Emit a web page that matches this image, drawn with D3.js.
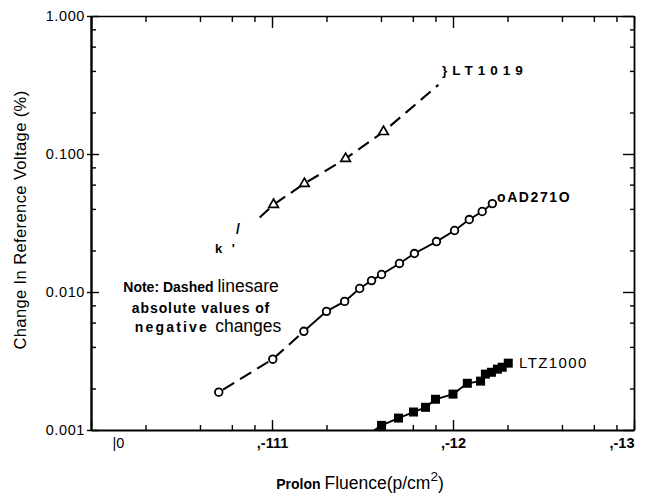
<!DOCTYPE html>
<html>
<head>
<meta charset="utf-8">
<script src="https://cdnjs.cloudflare.com/ajax/libs/d3/7.8.5/d3.min.js"></script>
<style>
    body { margin: 0; background: #fff; }
    svg { font-family: "Liberation Sans", Arial, Helvetica, sans-serif; }
</style>
</head>
<body>
<div id="chart"></div>
<script>
// tick values and labels (labels are kept as they appear on the scan)
var fluenceMajor = [1e10, 1e11, 1e12, 1e13];
var fluenceLabels = ["|0", ",-111", ",-12", ",-13"];
var fluenceMinor = [2e10, 4e10, 6e10, 8e10, 2e11, 4e11, 6e11, 8e11, 2e12, 4e12, 6e12, 8e12];
var changeMajor = [0.001, 0.01, 0.1, 1];
var changeLabels = ["0.001", "0.010", "0.100", "1.000"];
var changeMinor = [0.002, 0.004, 0.006, 0.008, 0.02, 0.04, 0.06, 0.08, 0.2, 0.4, 0.6, 0.8];

// LT1019 - triangles, all negative (dashed)
var lt1019Fluence = [1.02e11, 1.51e11, 2.55e11, 4.13e11];
var lt1019Change = [0.043, 0.061, 0.0925, 0.145];
// the dashed line runs a little past the markers on both ends
var lt1019LineFluence = [8.55e10, 1.02e11, 1.51e11, 2.55e11, 4.13e11, 8.3e11];
var lt1019LineChange = [0.0346, 0.043, 0.061, 0.0925, 0.145, 0.317];

// AD2710 - open circles, first three points negative (dashed)
var ad2710Fluence = [5.08e10, 1.01e11, 1.50e11, 2.0e11, 2.52e11, 3.05e11, 3.55e11, 4.03e11,
                     5.06e11, 6.12e11, 8.1e11, 1.02e12, 1.23e12, 1.45e12, 1.65e12];
var ad2710Change = [0.00188, 0.00326, 0.00519, 0.00724, 0.00855, 0.0106, 0.0121, 0.0134,
                    0.0161, 0.0190, 0.0232, 0.0279, 0.0335, 0.0383, 0.0437];
var ad2710Negative = 3;

// LTZ1000 - filled squares, line comes in from below the axis
var ltz1000Fluence = [4.03e11, 5.0e11, 6.05e11, 7.05e11, 8.0e11, 1.0e12, 1.20e12, 1.42e12,
                      1.51e12, 1.63e12, 1.76e12, 1.87e12, 2.02e12];
var ltz1000Change = [0.00108, 0.00122, 0.00135, 0.00146, 0.00167, 0.00182, 0.00218, 0.00226,
                     0.00254, 0.00262, 0.00276, 0.00285, 0.00305];
var ltz1000LineStart = [3.4e11, 0.00093];

var W = 645, H = 495;
// plot box (note: "top" is a reserved window property, so prefix everything)
var pLeft = 91, pRight = 634, pTop = 16, pBottom = 430;

var svg = d3.select("#chart").append("svg")
    .attr("width", W)
    .attr("height", H);

svg.append("rect").attr("width", W).attr("height", H).attr("fill", "#fff");

var x = d3.scaleLog().domain([1e10, 1e13]).range([pLeft, pRight]);
var y = d3.scaleLog().domain([0.001, 1]).range([pBottom, pTop]);

function zip(a, b) { return a.map(function(d, i) { return [d, b[i]]; }); }

// ---------- axes ----------
function styleAxis(g, w) {
    g.selectAll("line").attr("stroke", "#000").attr("stroke-width", 1.4);
    g.select(".domain").attr("stroke", "#000").attr("stroke-width", w);
}

// bottom
var xb = svg.append("g")
    .attr("transform", "translate(0," + pBottom + ")")
    .call(d3.axisBottom(x).tickValues(fluenceMajor).tickSizeInner(-10).tickSizeOuter(0)
        .tickPadding(8).tickFormat(function(d, i) { return fluenceLabels[i]; }));
styleAxis(xb, 1.8);
xb.selectAll("text").attr("font-size", 14.5).attr("fill", "#000").attr("font-weight", "bold");
xb.selectAll("text").filter(function(d, i) { return i == 0; })
    .attr("text-anchor", "start").attr("x", 21).attr("font-weight", "normal");
xb.selectAll("text").filter(function(d, i) { return i == 3; })
    .attr("text-anchor", "end").attr("x", 0);
svg.append("g")
    .attr("transform", "translate(0," + pBottom + ")")
    .call(d3.axisBottom(x).tickValues(fluenceMinor).tickSizeInner(-5).tickSizeOuter(0).tickFormat(""))
    .call(styleAxis, 0);

// top
svg.append("g")
    .attr("transform", "translate(0," + pTop + ")")
    .call(d3.axisTop(x).tickValues(fluenceMajor).tickSizeInner(-12).tickSizeOuter(0).tickFormat(""))
    .call(styleAxis, 1.6);
svg.append("g")
    .attr("transform", "translate(0," + pTop + ")")
    .call(d3.axisTop(x).tickValues(fluenceMinor).tickSizeInner(-6).tickSizeOuter(0).tickFormat(""))
    .call(styleAxis, 0);

// left: major ticks cross the axis
var yl = svg.append("g")
    .attr("transform", "translate(" + pLeft + ",0)")
    .call(d3.axisLeft(y).tickValues(changeMajor).tickSizeInner(4).tickSizeOuter(0)
        .tickPadding(2).tickFormat(function(d, i) { return changeLabels[i]; }));
styleAxis(yl, 2.4);
yl.selectAll("text").attr("font-size", 14.5).attr("fill", "#000").attr("letter-spacing", 0.6);
svg.append("g")
    .attr("transform", "translate(" + pLeft + ",0)")
    .call(d3.axisLeft(y).tickValues(changeMajor).tickSizeInner(-8).tickSizeOuter(0).tickFormat(""))
    .call(styleAxis, 0);
svg.append("g")
    .attr("transform", "translate(" + pLeft + ",0)")
    .call(d3.axisLeft(y).tickValues(changeMinor).tickSizeInner(-5).tickSizeOuter(0).tickFormat(""))
    .call(styleAxis, 0);

// right
svg.append("g")
    .attr("transform", "translate(" + pRight + ",0)")
    .call(d3.axisRight(y).tickValues(changeMajor).tickSizeInner(-11).tickSizeOuter(0).tickFormat(""))
    .call(styleAxis, 1.8);
svg.append("g")
    .attr("transform", "translate(" + pRight + ",0)")
    .call(d3.axisRight(y).tickValues(changeMinor).tickSizeInner(-4).tickSizeOuter(0).tickFormat(""))
    .call(styleAxis, 0);

// axis titles
svg.append("text")
    .attr("transform", "translate(26," + 220 + ") rotate(-90)")
    .attr("text-anchor", "middle")
    .attr("font-size", 16.5).attr("letter-spacing", 0.4)
    .text("Change In Reference Voltage (%)");

var xt = svg.append("text")
    .attr("x", 360).attr("y", 489)
    .attr("text-anchor", "middle");
xt.append("tspan").attr("font-size", 14).attr("font-weight", "bold").text("Prolon ");
xt.append("tspan").attr("font-size", 17.5).text("Fluence(p/cm");
xt.append("tspan").attr("font-size", 13.5).attr("dy", -8).text("2");
xt.append("tspan").attr("font-size", 17.5).attr("dy", 8).text(")");

// ---------- series ----------
svg.append("clipPath").attr("id", "plot")
    .append("rect").attr("x", pLeft).attr("y", pTop)
    .attr("width", pRight - pLeft).attr("height", pBottom - pTop);

var line = d3.line()
    .x(function(d) { return x(d[0]); })
    .y(function(d) { return y(d[1]); });

var plot = svg.append("g").attr("clip-path", "url(#plot)");

// LT1019
plot.append("path")
    .datum(zip(lt1019LineFluence, lt1019LineChange))
    .attr("d", line)
    .attr("fill", "none").attr("stroke", "#000").attr("stroke-width", 2.1)
    .attr("stroke-dasharray", "13,7");
plot.selectAll(".tri")
    .data(zip(lt1019Fluence, lt1019Change))
    .enter().append("path")
    .attr("class", "tri")
    .attr("transform", function(d) { return "translate(" + x(d[0]) + "," + y(d[1]) + ")"; })
    .attr("d", d3.symbol(d3.symbolTriangle, 40))
    .attr("fill", "#fff").attr("stroke", "#000").attr("stroke-width", 1.7);

// AD2710
var ad = zip(ad2710Fluence, ad2710Change);
plot.append("path")
    .datum(ad.slice(0, ad2710Negative))
    .attr("d", line)
    .attr("fill", "none").attr("stroke", "#000").attr("stroke-width", 2.1)
    .attr("stroke-dasharray", "13,7").attr("stroke-dashoffset", -5);
plot.append("path")
    .datum(ad.slice(ad2710Negative - 1))
    .attr("d", line)
    .attr("fill", "none").attr("stroke", "#000").attr("stroke-width", 1.9);
plot.selectAll(".circ")
    .data(ad)
    .enter().append("circle")
    .attr("class", "circ")
    .attr("cx", function(d) { return x(d[0]); })
    .attr("cy", function(d) { return y(d[1]); })
    .attr("r", 3.8)
    .attr("fill", "#fff").attr("stroke", "#000").attr("stroke-width", 1.8);

// LTZ1000
var ltz = zip(ltz1000Fluence, ltz1000Change);
plot.append("path")
    .datum([ltz1000LineStart].concat(ltz))
    .attr("d", line)
    .attr("fill", "none").attr("stroke", "#000").attr("stroke-width", 1.9);
svg.selectAll(".sq")
    .data(ltz)
    .enter().append("rect")
    .attr("class", "sq")
    .attr("x", function(d) { return x(d[0]) - 4.5; })
    .attr("y", function(d) { return y(d[1]) - 4.5; })
    .attr("width", 9).attr("height", 9)
    .attr("fill", "#000");

// ---------- labels ----------
svg.append("text")
    .attr("x", 442).attr("y", 75)
    .attr("font-size", 13.5).attr("font-weight", "bold").attr("letter-spacing", 5)
    .text("}LT1019");
svg.append("text")
    .attr("x", 497).attr("y", 202)
    .attr("font-size", 14).attr("font-weight", "bold").attr("letter-spacing", 1.6)
    .text("oAD271O");
svg.append("text")
    .attr("x", 519).attr("y", 368)
    .attr("font-size", 15).attr("letter-spacing", 1.4)
    .text("LTZ1000");

// stray marks from the scan
svg.append("text")
    .attr("x", 215).attr("y", 253)
    .attr("font-size", 13).attr("font-weight", "bold").attr("letter-spacing", 3)
    .text("k '");
svg.append("text")
    .attr("x", 236).attr("y", 234)
    .attr("font-size", 14).attr("font-weight", "bold")
    .text("/");

// note
var note = svg.append("g").attr("text-anchor", "middle");
var n1 = note.append("text").attr("x", 201).attr("y", 292);
n1.append("tspan").attr("font-size", 14).attr("font-weight", "bold").text("Note: Dashed ");
n1.append("tspan").attr("font-size", 17.5).text("linesare");
note.append("text").attr("x", 201).attr("y", 313)
    .attr("font-size", 14).attr("font-weight", "bold").attr("letter-spacing", 0.9)
    .text("absolute values of");
var n3 = note.append("text").attr("x", 208).attr("y", 332);
n3.append("tspan").attr("font-size", 14).attr("font-weight", "bold").attr("letter-spacing", 2.2).text("negative ");
n3.append("tspan").attr("font-size", 17.5).text("changes");
</script>
</body>
</html>
